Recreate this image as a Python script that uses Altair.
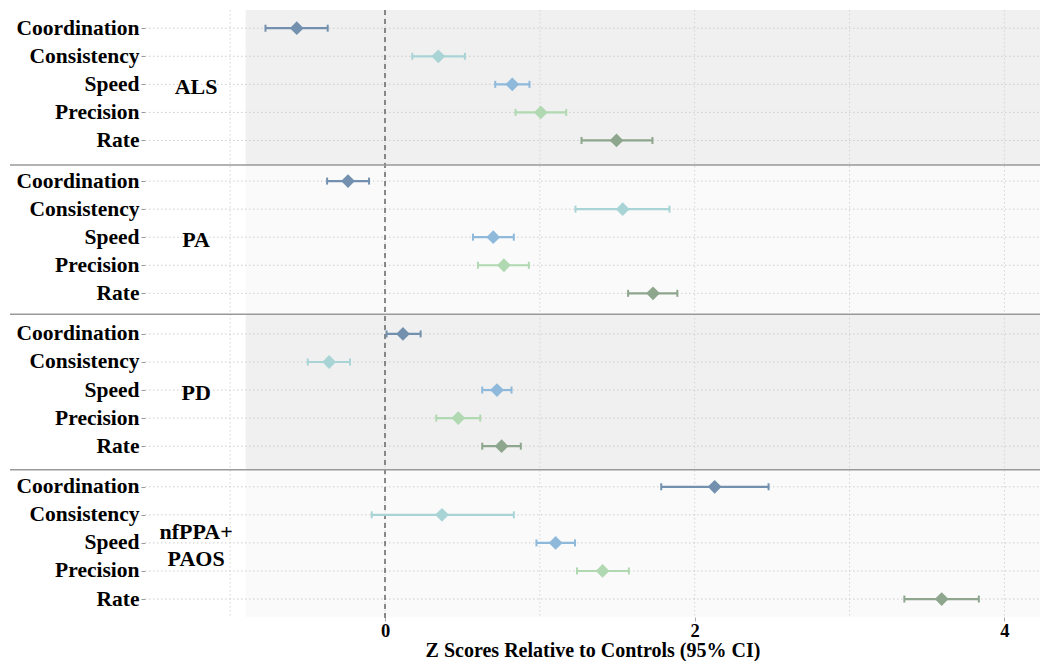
import altair as alt
import pandas as pd

# ---------------- data ----------------
groups = ["ALS", "PA", "PD", "nfPPA+\nPAOS"]
measures = ["Coordination", "Consistency", "Speed", "Precision", "Rate"]

est = [
    [-0.570, 0.344, 0.822, 1.006, 1.495],   # ALS
    [-0.239, 1.535, 0.699, 0.768, 1.731],   # PA
    [0.116, -0.361, 0.723, 0.473, 0.753],   # PD
    [2.129, 0.368, 1.102, 1.405, 3.595],    # nfPPA+PAOS
]
lo = [
    [-0.772, 0.176, 0.712, 0.843, 1.269],
    [-0.374, 1.230, 0.568, 0.600, 1.570],
    [0.010, -0.499, 0.628, 0.331, 0.628],
    [1.784, -0.086, 0.978, 1.240, 3.354],
]
hi = [
    [-0.370, 0.516, 0.933, 1.170, 1.727],
    [-0.103, 1.837, 0.832, 0.929, 1.888],
    [0.230, -0.226, 0.817, 0.615, 0.877],
    [2.477, 0.832, 1.227, 1.575, 3.835],
]
x_ticks = [0, 2, 4]
x_grid = [-1, 0, 1, 2, 3, 4]

# ---------------- layout / style ----------------
colors = ["#7391ae", "#a9d4d6", "#8fb9da", "#b0d9b1", "#8ea68d"]
W, H = 895, 607
X_MIN, X_MAX = -1.55, 4.23
Y_MAX = 21.63
PANEL_STEP = 5.447
ROW0 = 0.649
seps = [0.0, 5.52, 10.84, 16.38, Y_MAX]
shade_colors = ["#f0f0f0", "#fafafa", "#f0f0f0", "#fafafa"]
SHADE_X0 = -0.9
LABEL_X = -1.22
LINE_H = 27
FONT = "Liberation Serif"
px_per_unit = H / Y_MAX

rows = []
for p, g in enumerate(groups):
    for k, m in enumerate(measures):
        rows.append(dict(group=g, measure=m, est=est[p][k], lo=lo[p][k],
                         hi=hi[p][k], ypos=p * PANEL_STEP + ROW0 + k))
df = pd.DataFrame(rows)

shade_df = pd.DataFrame({
    "x0": [SHADE_X0] * 4,
    "y0": seps[:4],
    "y1": seps[1:],
    "fill": shade_colors,
})
sep_df = pd.DataFrame({"sep": seps[1:4]})
vgrid_df = pd.DataFrame({"gx": x_grid})
glabel_df = pd.DataFrame({
    "group": groups,
    "gy": [p * PANEL_STEP + ROW0 + 2 - (g.count("\n")) / 2 * LINE_H / px_per_unit
           for p, g in enumerate(groups)],
})

xs = alt.Scale(domain=[X_MIN, X_MAX], nice=False, zero=False)
ys = alt.Scale(domain=[0, Y_MAX], nice=False, zero=False, reverse=True)

names_js = "[" + ",".join("'%s'" % m for m in measures) + "]"
label_expr = "%s[round((datum.value - %s) %% %s) %% 5]" % (names_js, ROW0, PANEL_STEP)

yaxis = alt.Axis(
    values=list(df["ypos"]), labelExpr=label_expr, title=None,
    labelFont=FONT, labelFontWeight="bold", labelFontSize=21.5, labelColor="#000",
    labelOverlap=False, labelPadding=2, tickColor="#999", tickSize=4,
    domain=False, grid=False,
)
xaxis = alt.Axis(
    values=x_ticks, format="d", title="Z Scores Relative to Controls (95% CI)",
    labelFont=FONT, labelFontWeight="bold", labelFontSize=18.5, labelColor="#000",
    labelPadding=0, tickColor="#aaa", tickSize=4, domain=False, grid=False,
    titleFont=FONT, titleFontWeight="bold", titleFontSize=20, titleColor="#000",
    titlePadding=1,
)

color = alt.Color("measure:N", scale=alt.Scale(domain=measures, range=colors), legend=None)

shade = alt.Chart(shade_df).mark_rect().encode(
    x=alt.X("x0:Q", scale=xs, axis=xaxis),
    x2=alt.value(W),
    y=alt.Y("y0:Q", scale=ys, axis=yaxis),
    y2="y1:Q",
    fill=alt.Fill("fill:N", scale=None),
)

vgrid = alt.Chart(vgrid_df).mark_rule(color="#d4d4d4", strokeDash=[1.5, 2.5], strokeWidth=1).encode(
    x=alt.X("gx:Q", scale=xs, axis=xaxis),
    y=alt.value(0), y2=alt.value(H),
)

hgrid = alt.Chart(df).mark_rule(color="#cccccc", strokeDash=[1.5, 2.5], strokeWidth=1).encode(
    x=alt.value(0), x2=alt.value(W),
    y=alt.Y("ypos:Q", scale=ys, axis=yaxis),
)

zero = alt.Chart(vgrid_df).transform_filter("datum.gx == 0").mark_rule(
    color="#666666", strokeDash=[5, 4], strokeWidth=1.5).encode(
    x=alt.X("gx:Q", scale=xs, axis=xaxis),
    y=alt.value(0), y2=alt.value(H + 4),
)

sep = alt.Chart(sep_df).mark_rule(color="#999999", strokeWidth=1.5).encode(
    x=alt.value(-135), x2=alt.value(W),
    y=alt.Y("sep:Q", scale=ys, axis=yaxis),
)

bars = alt.Chart(df).mark_rule(strokeWidth=2.2).encode(
    x=alt.X("lo:Q", scale=xs, axis=xaxis), x2="hi:Q",
    y=alt.Y("ypos:Q", scale=ys, axis=yaxis), color=color,
)
cap_lo = alt.Chart(df).mark_rule(strokeWidth=2, yOffset=-3.5, y2Offset=3.5).encode(
    x=alt.X("lo:Q", scale=xs, axis=xaxis),
    y=alt.Y("ypos:Q", scale=ys, axis=yaxis), y2="ypos:Q", color=color,
)
cap_hi = alt.Chart(df).mark_rule(strokeWidth=2, yOffset=-3.5, y2Offset=3.5).encode(
    x=alt.X("hi:Q", scale=xs, axis=xaxis),
    y=alt.Y("ypos:Q", scale=ys, axis=yaxis), y2="ypos:Q", color=color,
)
points = alt.Chart(df).mark_point(shape="diamond", filled=True, size=190, opacity=1).encode(
    x=alt.X("est:Q", scale=xs, axis=xaxis),
    y=alt.Y("ypos:Q", scale=ys, axis=yaxis), color=color,
)

glabels = alt.Chart(glabel_df).mark_text(
    font=FONT, fontWeight="bold", fontSize=22, color="#000", align="center",
    baseline="middle", lineBreak="\n", lineHeight=LINE_H, dy=3,
).encode(
    x=alt.datum(LABEL_X, scale=xs),
    y=alt.Y("gy:Q", scale=ys, axis=yaxis),
    text="group:N",
)

chart = alt.layer(shade, vgrid, hgrid, zero, sep, bars, cap_lo, cap_hi, points, glabels).properties(
    width=W, height=H,
    autosize=alt.AutoSizeParams(type="none"),
    padding={"left": 137, "top": 2, "right": 0, "bottom": 44},
    background="white",
).configure_view(stroke=None)

chart.save("out.html", embed_options={"renderer": "svg", "actions": False})
